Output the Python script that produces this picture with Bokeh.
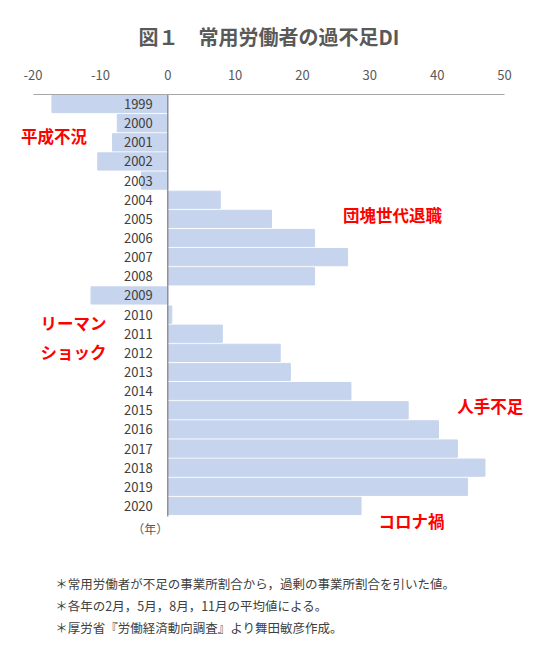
from bokeh.plotting import figure
from bokeh.models import Range1d, FixedTicker, Label, PrintfTickFormatter
from bokeh.core.properties import value
from bokeh.embed import file_html
from bokeh.resources import INLINE

FONT = "Noto Sans CJK JP"

years = [1999, 2000, 2001, 2002, 2003, 2004, 2005, 2006, 2007, 2008, 2009,
         2010, 2011, 2012, 2013, 2014, 2015, 2016, 2017, 2018, 2019, 2020]
di = [-17.2, -7.5, -8.2, -10.4, -3.9, 7.8, 15.4, 21.8, 26.7, 21.8, -11.4,
      0.6, 8.1, 16.7, 18.2, 27.2, 35.7, 40.2, 43.0, 47.1, 44.5, 28.7]
year_labels = [str(y) for y in years]
x_ticks = [-20, -10, 0, 10, 20, 30, 40, 50]

title_text = "図１　常用労働者の過不足DI"
notes = [
    "＊常用労働者が不足の事業所割合から，過剰の事業所割合を引いた値。",
    "＊各年の2月，5月，8月，11月の平均値による。",
    "＊厚労省『労働経済動向調査』より舞田敏彦作成。",
]
events = ["平成不況", "団塊世代退職", "リーマン", "ショック", "人手不足", "コロナ禍"]


def make_plot():
    # frame covers the whole canvas below the axis, so notes and
    # annotations can sit around the bars
    p = figure(width=550, height=662, output_backend="svg", toolbar_location=None,
               x_range=Range1d(-24.84, 56.83), y_range=Range1d(2028.18, 1998.5),
               x_axis_location="above", min_border_left=0, min_border_right=0,
               min_border_top=94, min_border_bottom=0)
    p.outline_line_color = None
    p.grid.visible = False
    p.yaxis.visible = False

    p.title.text = title_text
    p.title.text_font = FONT
    p.title.text_font_size = "20px"
    p.title.text_font_style = "bold"
    p.title.text_color = "#595959"
    p.title.align = "left"
    p.title.offset = 138
    p.title.standoff = 31

    ax = p.xaxis[0]
    ax.ticker = FixedTicker(ticks=x_ticks)
    ax.formatter = PrintfTickFormatter(format="%d")
    ax.bounds = (-20, 50)
    ax.axis_line_color = "#a6a6a6"
    ax.major_tick_line_color = None
    ax.minor_tick_line_color = None
    ax.major_tick_out = 0
    ax.minor_tick_out = 0
    ax.major_label_standoff = 15
    ax.major_label_text_font = FONT
    ax.major_label_text_font_size = "13px"
    ax.major_label_text_color = "#595959"

    p.hbar(y=years, left=0, right=di, height=0.9, color="#c6d4ed")
    # zero line
    p.segment(x0=[0], y0=[1998.5], x1=[0], y1=[2020.55], line_color="#808080", line_width=1.2)

    p.text(x=[0] * len(years), y=years, text=year_labels, x_offset=-15,
           text_align="right", text_baseline="middle", text_font=value(FONT),
           text_font_size="13px", text_color="#404040")

    p.add_layout(Label(x=-2.6, y=2021.2, text="（年）", text_font=FONT,
                       text_font_size="12px", text_color="#595959",
                       text_align="center", text_baseline="middle"))

    ev_pos = [(-21.8, 2000.66), (26.0, 2004.79), (-18.9, 2010.46),
              (-18.9, 2011.94), (43.0, 2014.8), (31.3, 2020.8)]
    for txt, (x, y) in zip(events, ev_pos):
        p.add_layout(Label(x=x, y=y, text=txt, text_font=FONT, text_font_size="16.5px",
                           text_font_style="bold", text_color="#ff0000",
                           text_align="left", text_baseline="middle"))

    for txt, y in zip(notes, [2024.05, 2025.2, 2026.36]):
        p.add_layout(Label(x=-16.7, y=y, text=txt, text_font=FONT,
                           text_font_size="12.5px", text_color="#404040",
                           text_align="left", text_baseline="middle"))
    return p


if __name__ == "__main__":
    p = make_plot()
    open("out.html", "w").write(file_html(p, INLINE))
